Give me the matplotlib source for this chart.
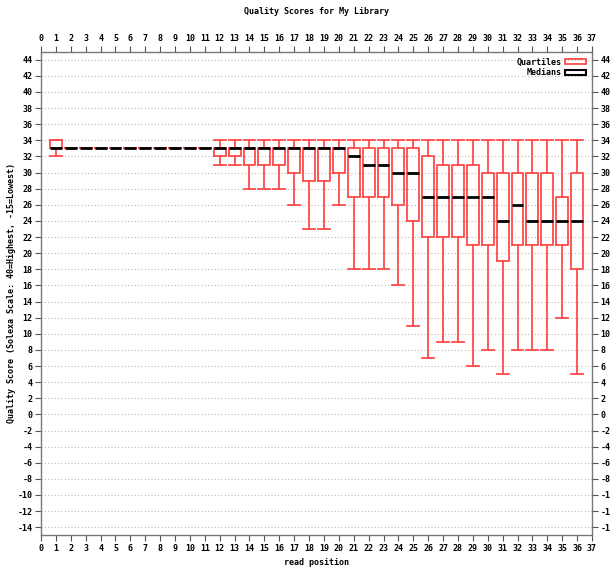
import numpy as np
import matplotlib
matplotlib.use("Agg")
import matplotlib.pyplot as plt
from matplotlib.patches import Patch

plt.rcParams["axes.unicode_minus"] = False

# per read position: lower whisker, Q1, median, Q3, upper whisker
positions = list(range(1, 37))
whisk_lo = [32, 33, 33, 33, 33, 33, 33, 33, 33, 33, 33, 31, 31, 28, 28, 28, 26, 23,
            23, 26, 18, 18, 18, 16, 11, 7, 9, 9, 6, 8, 5, 8, 8, 8, 12, 5]
q1 = [33, 33, 33, 33, 33, 33, 33, 33, 33, 33, 33, 32, 32, 31, 31, 31, 30, 29,
      29, 30, 27, 27, 27, 26, 24, 22, 22, 22, 21, 21, 19, 21, 21, 21, 21, 18]
medians = [33, 33, 33, 33, 33, 33, 33, 33, 33, 33, 33, 33, 33, 33, 33, 33, 33, 33,
           33, 33, 32, 31, 31, 30, 30, 27, 27, 27, 27, 27, 24, 26, 24, 24, 24, 24]
q3 = [34, 33, 33, 33, 33, 33, 33, 33, 33, 33, 33, 33, 33, 33, 33, 33, 33, 33,
      33, 33, 33, 33, 33, 33, 33, 32, 31, 31, 31, 30, 30, 30, 30, 30, 27, 30]
whisk_hi = [34, 33, 33, 33, 33, 33, 33, 33, 33, 33, 33, 34, 34, 34, 34, 34, 34, 34,
            34, 34, 34, 34, 34, 34, 34, 34, 34, 34, 34, 34, 34, 34, 34, 34, 34, 34]

W, H = 610, 569
fig = plt.figure(figsize=(W / 100, H / 100), dpi=100)
ax = fig.add_axes([41 / W, 1 - 535.3 / H, (592 - 41) / W, (535.3 - 51.7) / H])

mono = {"family": "DejaVu Sans Mono", "weight": "bold", "size": 6}
red = "#ff4a4a"

stats = []
for p, lo, a, m, b, hi in zip(positions, whisk_lo, q1, medians, q3, whisk_hi):
    stats.append(dict(whislo=lo, q1=a, med=m, q3=b, whishi=hi, fliers=[]))

ax.bxp(stats, positions=positions, widths=0.8, capwidths=0.8,
       showfliers=False, manage_ticks=False,
       boxprops=dict(color=red, lw=1.3),
       whiskerprops=dict(color=red, lw=1.3),
       capprops=dict(color=red, lw=1.3),
       medianprops=dict(color="black", lw=2.0, solid_capstyle="butt"))

ax.set_xlim(0, 37)
ax.set_ylim(-15, 45)
ax.set_xticks(range(0, 38))
ax.set_yticks(range(-14, 45, 2))
for y in range(-14, 45, 2):
    ax.axhline(y, color="#bbbbbb", lw=0.8, ls=(0, (1, 2)), zorder=0)

ax.tick_params(direction="out", length=4, width=0.8, color="#555555",
               top=True, right=True, labeltop=True, labelright=True, pad=2)
ax.tick_params(axis="both", which="both", labelsize=6)
for lab in ax.get_xticklabels() + ax.get_yticklabels():
    lab.set_fontproperties(mono)
for sp in ax.spines.values():
    sp.set_color("#777777")
    sp.set_linewidth(1.0)

ax.set_title("Quality Scores for My Library", fontdict=mono, pad=27)
ax.set_xlabel("read position", fontdict=mono, labelpad=4)
ax.set_ylabel("Quality Score (Solexa Scale: 40=Highest, -15=Lowest)", fontdict=mono, labelpad=1)

handles = [Patch(facecolor="none", edgecolor=red, lw=1.3, label="Quartiles"),
           Patch(facecolor="none", edgecolor="black", lw=1.5, label="Medians")]
ax.legend(handles=handles, loc="upper right", frameon=False, markerfirst=False,
          prop=mono, handlelength=2.5, handleheight=0.6, labelspacing=0.2,
          borderaxespad=0.3, handletextpad=0.5)

fig.savefig("out.png", dpi=100)
